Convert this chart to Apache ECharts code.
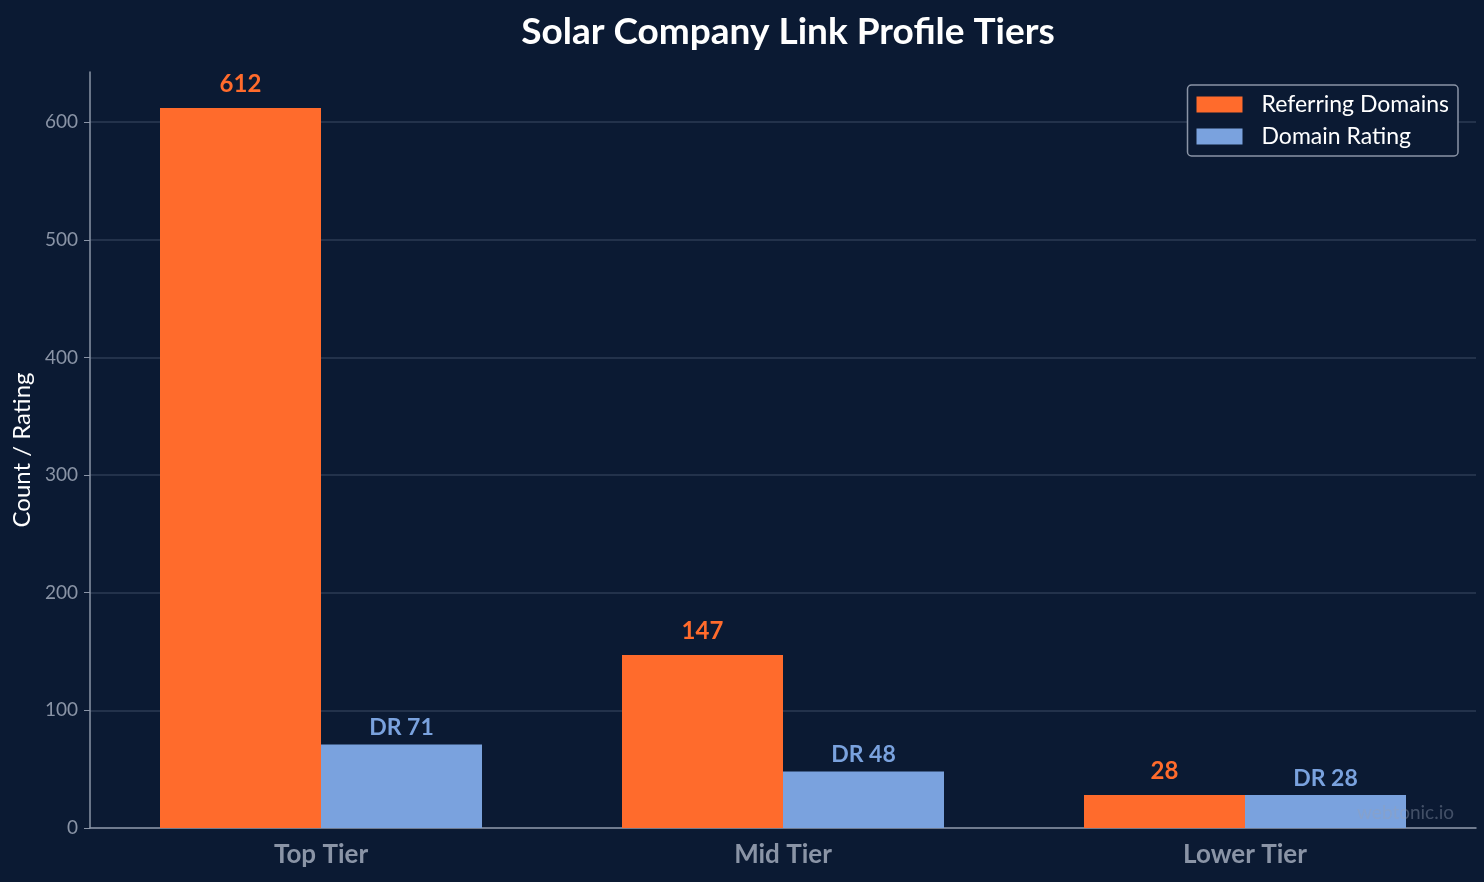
<!DOCTYPE html>
<html>
<head>
<meta charset="utf-8">
<script src="https://cdn.jsdelivr.net/npm/echarts@6/dist/echarts.min.js"></script>
<style>
  html, body { margin: 0; padding: 0; background: #0b1a33; }
  #chart { width: 1484px; height: 882px; }
</style>
</head>
<body>
<div id="chart"></div>
<script>
const tiers = ['Top Tier', 'Mid Tier', 'Lower Tier']
const referringDomains = [612, 147, 28]
const domainRating = [71, 48, 28]
const yTicks = [0, 100, 200, 300, 400, 500, 600]

const orange = '#ff6b2c'
const blue = '#7aa2de'
const axisGrey = '#8a94a6'

const chart = echarts.init(document.getElementById('chart'))

const option = {
  backgroundColor: '#0b1a33',
  textStyle: { fontFamily: 'Lato, "Noto Sans", sans-serif' },
  title: {
    text: 'Solar Company Link Profile Tiers',
    left: 783,
    textAlign: 'center',
    top: 9,
    textStyle: { color: '#ffffff', fontSize: 37, fontWeight: 'bold', fontFamily: 'Lato' }
  },
  legend: {
    data: ['Referring Domains', 'Domain Rating'],
    orient: 'vertical',
    right: 26,
    top: 85,
    itemWidth: 46,
    itemHeight: 16,
    itemGap: 9,
    padding: [8, 9, 8, 9],
    borderColor: '#8a94a6',
    borderWidth: 1.5,
    borderRadius: 4,
    backgroundColor: '#0b1a33',
    icon: 'rect',
    textStyle: { color: '#ffffff', fontSize: 23, lineHeight: 23, fontFamily: 'Lato', padding: [0, 0, 0, 14] }
  },
  grid: { left: 90, right: 8, top: 72, bottom: 54 },
  xAxis: {
    type: 'category',
    data: tiers,
    axisLine: { lineStyle: { color: axisGrey, width: 1.5 } },
    axisTick: { alignWithLabel: true, length: 6, lineStyle: { color: axisGrey } },
    axisLabel: { color: axisGrey, fontSize: 26, fontWeight: 'bold', fontFamily: 'Lato', margin: 14 },
    splitLine: { show: false }
  },
  yAxis: {
    type: 'value',
    min: yTicks[0],
    max: 642.6,
    interval: 100,
    name: 'Count / Rating',
    nameLocation: 'middle',
    nameGap: 54,
    nameTextStyle: { color: '#ffffff', fontSize: 24, fontFamily: 'Lato' },
    axisLine: { show: true, lineStyle: { color: axisGrey, width: 1.5 } },
    axisTick: { show: true, length: 6, lineStyle: { color: axisGrey } },
    axisLabel: {
      color: axisGrey,
      fontSize: 19,
      fontFamily: 'Lato',
      margin: 12,
      showMaxLabel: false,
      formatter: v => yTicks.includes(v) ? String(v) : ''
    },
    splitLine: { show: true, showMaxLine: false, lineStyle: { color: '#2c3b55', width: 1.5 } }
  },
  series: [
    {
      name: 'Referring Domains',
      type: 'bar',
      data: referringDomains,
      barWidth: 161,
      barGap: '0%',
      itemStyle: { color: orange },
      label: {
        show: true,
        position: 'top',
        distance: 12,
        color: orange,
        fontSize: 24,
        fontWeight: 'bold',
        fontFamily: 'Lato'
      }
    },
    {
      name: 'Domain Rating',
      type: 'bar',
      data: domainRating,
      barWidth: 161,
      itemStyle: { color: blue },
      label: {
        show: true,
        position: 'top',
        distance: 5,
        color: blue,
        fontSize: 23,
        fontWeight: 'bold',
        fontFamily: 'Lato',
        formatter: p => 'DR ' + p.value
      }
    }
  ],
  graphic: [
    {
      type: 'text',
      right: 30,
      bottom: 60,
      z: 10,
      style: { text: 'webtonic.io', fill: 'rgba(150,160,180,0.4)', fontSize: 19, fontFamily: 'Lato' }
    }
  ]
}

chart.setOption(option)
</script>
</body>
</html>
